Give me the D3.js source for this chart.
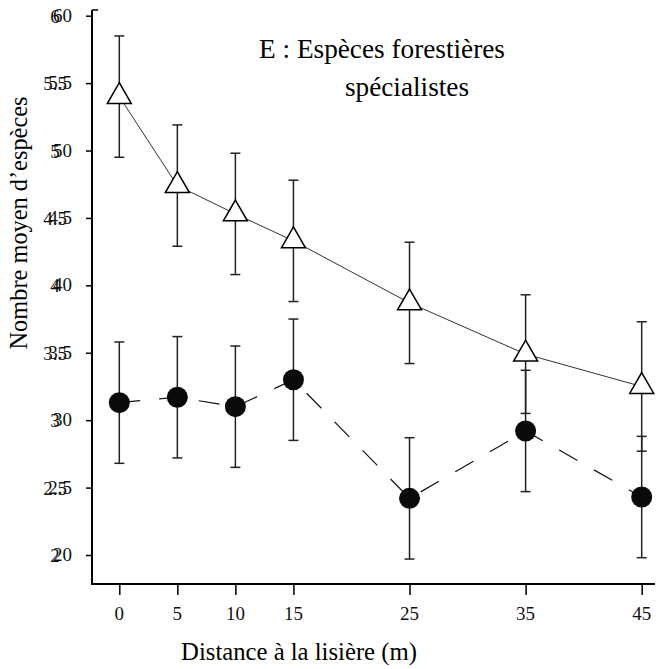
<!DOCTYPE html>
<html><head><meta charset="utf-8">
<script src="https://cdn.jsdelivr.net/npm/d3@7"></script>
<style>
html,body{margin:0;padding:0;background:#fff;}
svg{display:block;}
svg text{font-family:"Liberation Serif","Times New Roman",Times,"DejaVu Serif",serif;}
</style>
</head><body>
<svg id="c" width="664" height="669"></svg>
<script>
const distances = [0, 5, 10, 15, 25, 35, 45];
const triMeans = [5.40, 4.74, 4.53, 4.33, 3.87, 3.49, 3.25];
const triErr   = [0.45, 0.45, 0.45, 0.45, 0.45, 0.44, 0.48];
const dotMeans = [3.13, 3.17, 3.10, 3.30, 2.42, 2.92, 2.43];
const dotErr   = [0.45, 0.45, 0.45, 0.45, 0.45, 0.45, 0.45];
const yTicks = [2, 2.5, 3, 3.5, 4, 4.5, 5, 5.5, 6];
const yLabelsA = ["2", "2.5", "3", "3.5", "4", "4.5", "5", "5.5", "6"];
const yLabelsB = ["20", "2.5", "30", "3.5", "40", "4.5", "50", "5.5", "60"];
const xLabels = ["0", "5", "10", "15", "25", "35", "45"];

const svg = d3.select("#c");
const x = d3.scaleLinear().domain([0, 45]).range([119.3, 641.7]);
const y = d3.scaleLinear().domain([2, 6]).range([555, 15.7]);
const axX = 92, axY = 584, axRight = 655, axTop = 10;

// fit a text's font size so its natural width matches a target width
function fit(sel, target, base, cap) {
  sel.attr("font-size", base);
  const w = sel.node().getComputedTextLength();
  let s = base;
  if (w > 0) s = Math.min(base * cap, base * target / w);
  sel.attr("font-size", s);
  return s;
}

// axes lines
svg.append("line").attr("x1", axX).attr("x2", axX).attr("y1", axTop).attr("y2", axY)
  .attr("stroke", "#000").attr("stroke-width", 2);
svg.append("line").attr("x1", axX - 1).attr("x2", axRight).attr("y1", axY).attr("y2", axY)
  .attr("stroke", "#000").attr("stroke-width", 2);
svg.append("line").attr("x1", axX).attr("x2", axX + 6).attr("y1", axTop).attr("y2", axTop)
  .attr("stroke", "#000").attr("stroke-width", 1.5);

// y ticks
const yAxis = d3.axisLeft(y).tickValues(yTicks).tickSize(6).tickFormat("");
const gy = svg.append("g").attr("transform", `translate(${axX},0)`).call(yAxis);
gy.select(".domain").remove();
gy.selectAll(".tick line").attr("stroke", "#000").attr("stroke-width", 1.5);

// x ticks
const xAxis = d3.axisBottom(x).tickValues(distances).tickSize(11).tickFormat("");
const gx = svg.append("g").attr("transform", `translate(0,${axY})`).call(xAxis);
gx.select(".domain").remove();
gx.selectAll(".tick line").attr("stroke", "#000").attr("stroke-width", 1.5);

// y tick labels (doubled, as in reference)
svg.append("g").selectAll("text").data(yTicks).join("text")
  .attr("x", 55).attr("y", d => y(d) + 7).attr("text-anchor", "middle")
  .attr("font-size", 19).attr("fill", "#111")
  .text((d, i) => yLabelsA[i]);
svg.append("g").selectAll("text").data(yTicks).join("text")
  .attr("x", 72).attr("y", d => y(d) + 6).attr("text-anchor", "end")
  .attr("font-size", 19).attr("fill", "#111")
  .text((d, i) => yLabelsB[i]);

// x tick labels
svg.append("g").selectAll("text").data(distances).join("text")
  .attr("x", d => x(d)).attr("y", 620).attr("text-anchor", "middle")
  .attr("font-size", 19).attr("fill", "#111")
  .text((d, i) => xLabels[i]);

// axis titles
fit(svg.append("text").attr("x", 299).attr("y", 660).attr("text-anchor", "middle")
  .text("Distance à la lisière (m)"), 236, 24, 1.15);
fit(svg.append("text").attr("transform", "translate(27,223) rotate(-90)").attr("text-anchor", "middle")
  .text("Nombre moyen d\u2019espèces"), 253, 24, 1.15);

// panel title (two lines, same size)
const ts = fit(svg.append("text").attr("x", 382).attr("y", 58).attr("text-anchor", "middle")
  .text("E : Espèces forestières"), 246, 26, 1.2);
svg.append("text").attr("x", 407).attr("y", 96).attr("text-anchor", "middle")
  .attr("font-size", ts).text("spécialistes");

// series lines
const triData = distances.map((d, i) => ({d, m: triMeans[i], e: triErr[i]}));
const dotData = distances.map((d, i) => ({d, m: dotMeans[i], e: dotErr[i]}));
const line = d3.line().x(p => x(p.d)).y(p => y(p.m));
svg.append("path").datum(triData).attr("d", line).attr("fill", "none")
  .attr("stroke", "#333").attr("stroke-width", 1);
svg.append("path").datum(dotData).attr("d", line).attr("fill", "none")
  .attr("stroke", "#111").attr("stroke-width", 1.2).attr("stroke-dasharray", "21,19");

// error bars
function bars(data) {
  const g = svg.append("g").attr("stroke", "#222").attr("stroke-width", 1.5);
  g.selectAll("line.v").data(data).join("line").attr("class", "v")
    .attr("x1", p => x(p.d)).attr("x2", p => x(p.d))
    .attr("y1", p => y(p.m + p.e)).attr("y2", p => y(p.m - p.e));
  g.selectAll("line.t").data(data).join("line").attr("class", "t")
    .attr("x1", p => x(p.d) - 5).attr("x2", p => x(p.d) + 5)
    .attr("y1", p => y(p.m + p.e)).attr("y2", p => y(p.m + p.e));
  g.selectAll("line.b").data(data).join("line").attr("class", "b")
    .attr("x1", p => x(p.d) - 5).attr("x2", p => x(p.d) + 5)
    .attr("y1", p => y(p.m - p.e)).attr("y2", p => y(p.m - p.e));
}
bars(triData);
bars(dotData);

// markers
const tri = d3.symbol().type(d3.symbolTriangle).size(250);
svg.append("g").selectAll("path").data(triData).join("path")
  .attr("d", tri).attr("transform", p => `translate(${x(p.d)},${y(p.m)})`)
  .attr("fill", "#fff").attr("stroke", "#000").attr("stroke-width", 1.5);
svg.append("g").selectAll("circle").data(dotData).join("circle")
  .attr("cx", p => x(p.d)).attr("cy", p => y(p.m)).attr("r", 10.5)
  .attr("fill", "#0a0a0a");
</script>
</body></html>
